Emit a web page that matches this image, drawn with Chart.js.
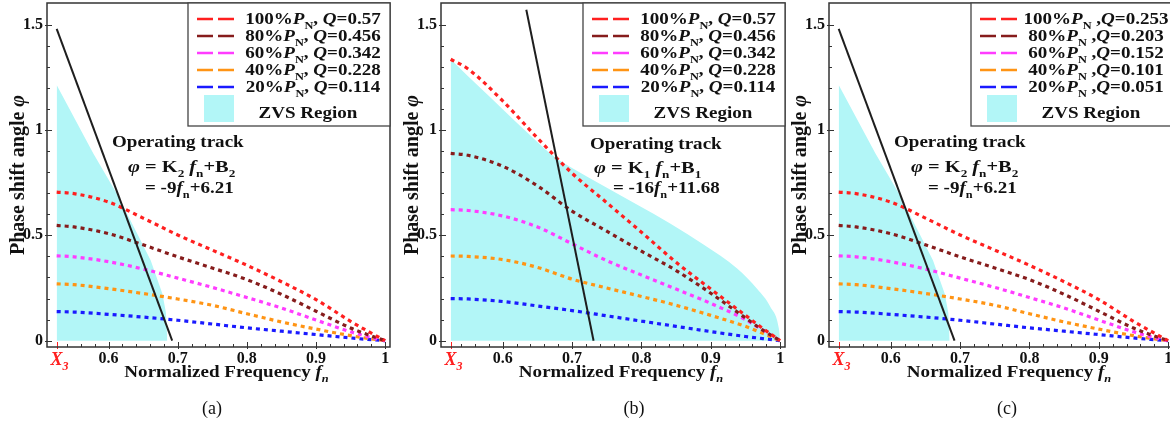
<!DOCTYPE html>
<html>
<head>
<meta charset="utf-8">
<title>Phase shift angle vs normalized frequency</title>
<script src="https://cdn.jsdelivr.net/npm/chart.js@4.4.1/dist/chart.umd.min.js"></script>
<style>
    body { margin: 0; width: 1170px; height: 425px; overflow: hidden; background: #fff; position: relative; }
    canvas { position: absolute; top: 0; }
</style>
</head>
<body>
<canvas id="chartA" width="391" height="425" style="left:0px"></canvas>
<canvas id="chartB" width="394" height="425" style="left:392px"></canvas>
<canvas id="chartC" width="393" height="425" style="left:781px"></canvas>

<script>
    const fn = [0.525, 0.55, 0.6, 0.65, 0.7, 0.75, 0.8, 0.85, 0.9, 0.95, 0.975, 1.0];

    // panel (a) (panel (c) shows the same curves)
    const phiA100 = [0.705, 0.698, 0.658, 0.582, 0.502, 0.430, 0.358, 0.280, 0.195, 0.092, 0.045, 0];
    const phiA80  = [0.547, 0.540, 0.508, 0.455, 0.398, 0.345, 0.290, 0.220, 0.140, 0.060, 0.028, 0];
    const phiA60  = [0.403, 0.398, 0.375, 0.340, 0.297, 0.253, 0.205, 0.155, 0.098, 0.042, 0.019, 0];
    const phiA40  = [0.270, 0.266, 0.247, 0.224, 0.198, 0.168, 0.128, 0.089, 0.055, 0.024, 0.011, 0];
    const phiA20  = [0.138, 0.136, 0.125, 0.112, 0.097, 0.079, 0.061, 0.045, 0.029, 0.013, 0.006, 0];
    const zvsAx = [0.525, 0.578, 0.612, 0.6415, 0.661, 0.678, 0.683, 0.685];
    const zvsAy = [1.214, 0.889, 0.698, 0.508, 0.381, 0.222, 0.133, 0];
    const trackAx = [0.525, 0.692];
    const trackAy = [1.48, 0];

    // panel (b)
    const phiB100 = [1.336, 1.290, 1.138, 0.962, 0.795, 0.655, 0.515, 0.372, 0.245, 0.120, 0.058, 0];
    const phiB80  = [0.889, 0.880, 0.828, 0.735, 0.615, 0.520, 0.425, 0.333, 0.225, 0.108, 0.050, 0];
    const phiB60  = [0.622, 0.618, 0.592, 0.540, 0.460, 0.380, 0.312, 0.245, 0.177, 0.100, 0.050, 0];
    const phiB40  = [0.402, 0.400, 0.385, 0.348, 0.292, 0.250, 0.210, 0.168, 0.120, 0.068, 0.035, 0];
    const phiB20  = [0.200, 0.198, 0.186, 0.165, 0.143, 0.118, 0.093, 0.068, 0.043, 0.020, 0.010, 0];
    const zvsBx = [0.525, 0.55, 0.582, 0.63, 0.676, 0.7, 0.745, 0.794, 0.842, 0.89, 0.938, 0.967, 0.986, 0.998, 1.0];
    const zvsBy = [1.336, 1.255, 1.156, 1.005, 0.869, 0.820, 0.735, 0.645, 0.555, 0.455, 0.343, 0.245, 0.160, 0.060, 0];
    const trackBx = [0.634, 0.731];
    const trackBy = [1.571, 0];

    // legend texts
    const loadPct = ['100%', '80%', '60%', '40%', '20%'];
    const qAB = ['0.57', '0.456', '0.342', '0.228', '0.114'];
    const qC = ['0.253', '0.203', '0.152', '0.101', '0.051'];

    // axes
    const X3 = 0.525;
    const xMin = 0.511, xMax = 1.007, yMin = -0.03, yMax = 1.603;
    const xTicks = [0.6, 0.7, 0.8, 0.9, 1.0];
    const xTickLabels = ['0.6', '0.7', '0.8', '0.9', '1'];
    const xMinor = [0.54, 0.56, 0.58, 0.62, 0.64, 0.66, 0.68, 0.72, 0.74, 0.76, 0.78,
                    0.82, 0.84, 0.86, 0.88, 0.92, 0.94, 0.96, 0.98];
    const yTicks = [0, 0.5, 1, 1.5];
    const yTickLabels = ['0', '0.5', '1', '1.5'];
    const yMinor = [0.1, 0.2, 0.3, 0.4, 0.6, 0.7, 0.8, 0.9, 1.1, 1.2, 1.3, 1.4];

    const colors = ['#ff1f1f', '#861c1c', '#ff3cff', '#ff9414', '#1a1aff'];
    const cyan = 'rgb(178,246,247)';
    const SERIF = '"Liberation Serif", "Times New Roman", serif';

    function pts(xs, ys) { return xs.map((x, i) => ({ x: x, y: ys[i] })); }

    function curve(ys, color) {
        return {
            data: pts(fn, ys), borderColor: color, borderWidth: 3.2, borderDash: [4, 4],
            pointRadius: 0, cubicInterpolationMode: 'monotone', fill: false, order: 1
        };
    }
    function zvs(xs, ys, smooth) {
        return {
            data: pts(xs, ys), borderColor: 'rgba(0,0,0,0)', borderWidth: 0, backgroundColor: cyan,
            pointRadius: 0, fill: 'origin', order: 5,
            cubicInterpolationMode: smooth ? 'monotone' : 'default', tension: 0
        };
    }
    function track(xs, ys) {
        return { data: pts(xs, ys), borderColor: '#1e1e1e', borderWidth: 2, pointRadius: 0, fill: false, order: 0 };
    }

    // draw text made of runs (bold / italic / subscript), optionally stretched
    function rich(ctx, x, y, runs, size, opt) {
        opt = opt || {};
        const fonts = runs.map(r => (r.it ? 'italic ' : '') + (r.normal ? '' : 'bold ') +
            (r.sub ? Math.round(size * 0.66) : size) + 'px ' + SERIF);
        let w = 0;
        runs.forEach((r, i) => { ctx.font = fonts[i]; w += ctx.measureText(r.t).width; });
        ctx.save();
        ctx.translate(x, y);
        if (opt.rotate) ctx.rotate(opt.rotate);
        ctx.scale(opt.stretch || 1, 1);
        ctx.fillStyle = opt.color || '#111';
        ctx.textBaseline = 'alphabetic';
        let cx = opt.align === 'center' ? -w / 2 : (opt.align === 'right' ? -w : 0);
        runs.forEach((r, i) => {
            ctx.font = fonts[i];
            ctx.fillText(r.t, cx, r.sub ? size * 0.28 : 0);
            cx += ctx.measureText(r.t).width;
        });
        ctx.restore();
    }

    function legendRuns(i, q, sep) {
        return [{ t: loadPct[i] }, { t: 'P', it: 1 }, { t: 'N', sub: 1 }, { t: sep }, { t: 'Q', it: 1 }, { t: '=' + q[i] }];
    }

    // per panel texts and offsets (relative to the plot frame)
    const panels = {
        a: { caption: '(a)', capX: 165, q: qAB, sep: ', ', k: '2', eq: ['-9', '+6.21'],
             ann: [[65, 147], [81, 172], [98, 193]] },
        b: { caption: '(b)', capX: 193, q: qAB, sep: ', ', k: '1', eq: ['-16', '+11.68'],
             ann: [[149, 149], [153, 173], [172, 193]] },
        c: { caption: '(c)', capX: 178, q: qC, sep: ' ,', k: '2', eq: ['-9', '+6.21'],
             ann: [[65, 147], [82, 172], [99, 193]] }
    };

    const decor = {
        id: 'decor',
        afterDraw(chart, args, o) {
            const p = panels[o.panel];
            const ctx = chart.ctx, ca = chart.chartArea;
            const xs = chart.scales.x, ys = chart.scales.y;
            const ST = 1.12;
            ctx.save();

            // tick marks, pointing inward
            ctx.strokeStyle = '#333';
            ctx.lineWidth = 1;
            ctx.beginPath();
            xTicks.forEach(v => { const px = Math.round(xs.getPixelForValue(v)) + 0.5; ctx.moveTo(px, ca.bottom + 2); ctx.lineTo(px, ca.bottom - 5); });
            xMinor.forEach(v => { const px = Math.round(xs.getPixelForValue(v)) + 0.5; ctx.moveTo(px, ca.bottom); ctx.lineTo(px, ca.bottom - 3); });
            yTicks.forEach(v => { const py = Math.round(ys.getPixelForValue(v)) + 0.5; ctx.moveTo(ca.left - 2, py); ctx.lineTo(ca.left + 5, py); });
            yMinor.forEach(v => { const py = Math.round(ys.getPixelForValue(v)) + 0.5; ctx.moveTo(ca.left, py); ctx.lineTo(ca.left + 3, py); });
            ctx.stroke();
            const px3 = Math.round(xs.getPixelForValue(X3)) + 0.5;
            ctx.strokeStyle = '#ff2020';
            ctx.beginPath(); ctx.moveTo(px3, ca.bottom + 2); ctx.lineTo(px3, ca.bottom - 5); ctx.stroke();

            // frame
            ctx.strokeStyle = '#333';
            ctx.lineWidth = 1.5;
            ctx.strokeRect(ca.left, ca.top, ca.right - ca.left, ca.bottom - ca.top);

            // legend box
            const lx = ca.right - 202, ly = ca.top;
            ctx.fillStyle = '#fff';
            ctx.fillRect(lx, ly, 202, 123);
            ctx.strokeStyle = '#444';
            ctx.lineWidth = 1.3;
            ctx.strokeRect(lx, ly, 202, 123);
            for (let i = 0; i < 5; i++) {
                const yy = ly + 16 + i * 17;
                ctx.strokeStyle = chart.data.datasets[i].borderColor;
                ctx.lineWidth = 2.5;
                ctx.setLineDash([16, 5]);
                ctx.beginPath(); ctx.moveTo(lx + 9, yy); ctx.lineTo(lx + 46, yy); ctx.stroke();
                ctx.setLineDash([]);
                rich(ctx, ca.right - 77, yy + 5, legendRuns(i, p.q, p.sep), 17, { align: 'center', stretch: ST });
            }
            ctx.fillStyle = cyan;
            ctx.fillRect(lx + 16, ly + 92, 30, 27);
            rich(ctx, ca.right - 82, ly + 115, [{ t: 'ZVS Region' }], 17, { align: 'center', stretch: ST });

            // operating track annotation
            const a = p.ann;
            rich(ctx, ca.left + a[0][0], a[0][1], [{ t: 'Operating track' }], 17, { stretch: ST });
            rich(ctx, ca.left + a[1][0], a[1][1], [{ t: 'φ', it: 1 }, { t: ' = K' }, { t: p.k, sub: 1 }, { t: ' ' },
                { t: 'f', it: 1 }, { t: 'n', sub: 1 }, { t: '+B' }, { t: p.k, sub: 1 }], 17, { stretch: 1.2 });
            rich(ctx, ca.left + a[2][0], a[2][1], [{ t: '= ' + p.eq[0] }, { t: 'f', it: 1 }, { t: 'n', sub: 1 },
                { t: p.eq[1] }], 17, { stretch: ST });

            // X3 label
            rich(ctx, px3 + 2, 365, [{ t: 'X', it: 1 }, { t: '3', sub: 1, it: 1 }], 18, { align: 'center', color: '#ff1f1f' });

            // axis titles
            rich(ctx, (ca.left + ca.right) / 2 + 8, 377, [{ t: 'Normalized Frequency ' }, { t: 'f', it: 1 }, { t: 'n', it: 1, sub: 1 }],
                17, { align: 'center', stretch: ST });
            rich(ctx, ca.left - 23, (ca.top + ca.bottom) / 2, [{ t: 'Phase shift angle ' }, { t: 'φ', it: 1 }],
                20, { align: 'center', rotate: -Math.PI / 2 });

            // caption
            rich(ctx, ca.left + p.capX, 414, [{ t: p.caption, normal: 1 }], 18, { align: 'center' });
            ctx.restore();
        }
    };

    function makeChart(id, panel, datasets, yAxisW) {
        return new Chart(document.getElementById(id), {
            type: 'line',
            data: { datasets: datasets },
            options: {
                responsive: false,
                animation: false,
                events: [],
                layout: { padding: { top: 3, right: 1, bottom: 38, left: 0 } },
                plugins: { legend: { display: false }, tooltip: { enabled: false }, decor: { panel: panel } },
                scales: {
                    x: {
                        type: 'linear', min: xMin, max: xMax,
                        grid: { display: false, drawTicks: false }, border: { display: false },
                        afterBuildTicks: s => { s.ticks = xTicks.map(v => ({ value: v })); },
                        ticks: {
                            callback: (v, i) => xTickLabels[i], autoSkip: false, maxRotation: 0, padding: 2,
                            color: '#111', font: { family: SERIF, size: 16, weight: 'bold' }
                        },
                        afterFit: s => { s.height = 40; s.paddingLeft = 0; s.paddingRight = 0; }
                    },
                    y: {
                        type: 'linear', min: yMin, max: yMax,
                        grid: { display: false, drawTicks: false }, border: { display: false },
                        afterBuildTicks: s => { s.ticks = yTicks.map(v => ({ value: v })); },
                        ticks: {
                            callback: (v, i) => yTickLabels[i], autoSkip: false, padding: 4,
                            color: '#111', font: { family: SERIF, size: 16, weight: 'bold' }
                        },
                        afterFit: s => { s.width = yAxisW; s.paddingTop = 0; s.paddingBottom = 0; }
                    }
                }
            },
            plugins: [decor]
        });
    }

    window.onload = () => {
        makeChart('chartA', 'a', [
            curve(phiA100, colors[0]), curve(phiA80, colors[1]), curve(phiA60, colors[2]),
            curve(phiA40, colors[3]), curve(phiA20, colors[4]),
            zvs(zvsAx, zvsAy, false), track(trackAx, trackAy)
        ], 47);
        makeChart('chartB', 'b', [
            curve(phiB100, colors[0]), curve(phiB80, colors[1]), curve(phiB60, colors[2]),
            curve(phiB40, colors[3]), curve(phiB20, colors[4]),
            zvs(zvsBx, zvsBy, true), track(trackBx, trackBy)
        ], 49);
        makeChart('chartC', 'c', [
            curve(phiA100, colors[0]), curve(phiA80, colors[1]), curve(phiA60, colors[2]),
            curve(phiA40, colors[3]), curve(phiA20, colors[4]),
            zvs(zvsAx, zvsAy, false), track(trackAx, trackAy)
        ], 48);
    };
</script>
</body>
</html>
